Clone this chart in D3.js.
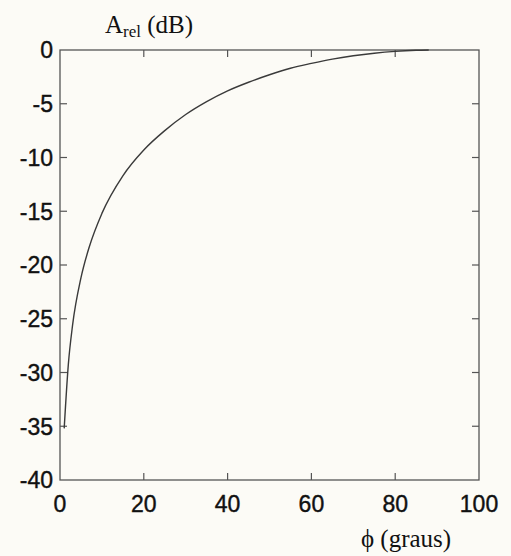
<!DOCTYPE html>
<html>
<head>
<meta charset="utf-8">
<script src="https://cdn.jsdelivr.net/npm/d3@7"></script>
<style>
  html, body { margin: 0; padding: 0; background: #fcfbf6; }
  svg { display: block; }
</style>
</head>
<body>
<div id="chart"></div>
<script>
// angle (graus) and relative amplitude (dB)
const phi = [1, 2, 3, 5, 7, 10, 15, 20, 25, 30, 35, 40, 45, 50, 55, 60, 65, 70, 75, 80, 85, 88];
const arel = [-35.2, -29.2, -25.6, -21.2, -18.3, -15.2, -11.7, -9.3, -7.5, -6.0, -4.8, -3.8,
              -3.0, -2.3, -1.7, -1.25, -0.85, -0.54, -0.3, -0.13, -0.03, 0];
const xTicks = [0, 20, 40, 60, 80, 100];
const yTicks = [0, -5, -10, -15, -20, -25, -30, -35, -40];

const width = 511, height = 556;
const margin = {top: 50, right: 32, bottom: 76, left: 60};

const svg = d3.select('#chart').append('svg')
    .attr('width', width)
    .attr('height', height);

const x = d3.scaleLinear().domain([0, 100]).range([margin.left, width - margin.right]);
const y = d3.scaleLinear().domain([-40, 0]).range([height - margin.bottom, margin.top]);

const axisColor = '#555';
const tickLen = 7;

// frame
svg.append('rect')
    .attr('x', x(0)).attr('y', y(0))
    .attr('width', x(100) - x(0)).attr('height', y(-40) - y(0))
    .attr('fill', 'none')
    .attr('stroke', axisColor)
    .attr('stroke-width', 1.3);

// inward ticks on all four sides
const inner = xTicks.filter(d => d > 0 && d < 100);
svg.append('g').selectAll('line').data(inner).join('line')
    .attr('x1', d => x(d)).attr('x2', d => x(d))
    .attr('y1', y(-40)).attr('y2', y(-40) - tickLen)
    .attr('stroke', axisColor).attr('stroke-width', 1.2);
svg.append('g').selectAll('line').data(inner).join('line')
    .attr('x1', d => x(d)).attr('x2', d => x(d))
    .attr('y1', y(0)).attr('y2', y(0) + tickLen)
    .attr('stroke', axisColor).attr('stroke-width', 1.2);
const innerY = yTicks.filter(d => d < 0 && d > -40);
svg.append('g').selectAll('line').data(innerY).join('line')
    .attr('x1', x(0)).attr('x2', x(0) + tickLen)
    .attr('y1', d => y(d)).attr('y2', d => y(d))
    .attr('stroke', axisColor).attr('stroke-width', 1.2);
svg.append('g').selectAll('line').data(innerY).join('line')
    .attr('x1', x(100)).attr('x2', x(100) - tickLen)
    .attr('y1', d => y(d)).attr('y2', d => y(d))
    .attr('stroke', axisColor).attr('stroke-width', 1.2);

// tick labels
svg.append('g').selectAll('text').data(xTicks).join('text')
    .attr('x', d => x(d))
    .attr('y', y(-40) + 32)
    .attr('text-anchor', 'middle')
    .style('font-family', '"Liberation Sans", Arial, sans-serif')
    .style('font-size', '23px')
    .style('fill', '#111')
    .style('stroke', '#111')
    .style('stroke-width', 0.4)
    .text(d => d);

svg.append('g').selectAll('text').data(yTicks).join('text')
    .attr('x', x(0) - 7)
    .attr('y', d => y(d))
    .attr('dy', '0.36em')
    .attr('text-anchor', 'end')
    .style('font-family', '"Liberation Sans", Arial, sans-serif')
    .style('font-size', '23px')
    .style('fill', '#111')
    .style('stroke', '#111')
    .style('stroke-width', 0.4)
    .text(d => d);

// curve
const line = d3.line()
    .x((d, i) => x(phi[i]))
    .y(d => y(d))
    .curve(d3.curveMonotoneX);

svg.append('path')
    .datum(arel)
    .attr('d', line)
    .attr('fill', 'none')
    .attr('stroke', '#3a3a3a')
    .attr('stroke-width', 1.4);

// axis titles
const yTitle = svg.append('text')
    .attr('x', 105)
    .attr('y', 33)
    .style('font-family', '"Liberation Serif", "Times New Roman", serif')
    .style('font-size', '25px')
    .style('fill', '#111');
yTitle.append('tspan').text('A');
yTitle.append('tspan').attr('dy', 4).style('font-size', '17px').text('rel');
yTitle.append('tspan').attr('dy', -4).text(' (dB)');

svg.append('text')
    .attr('x', 406)
    .attr('y', 547)
    .attr('text-anchor', 'middle')
    .style('font-family', '"Liberation Serif", "Times New Roman", serif')
    .style('font-size', '25px')
    .style('fill', '#111')
    .text('\u03D5 (graus)');
</script>
</body>
</html>
